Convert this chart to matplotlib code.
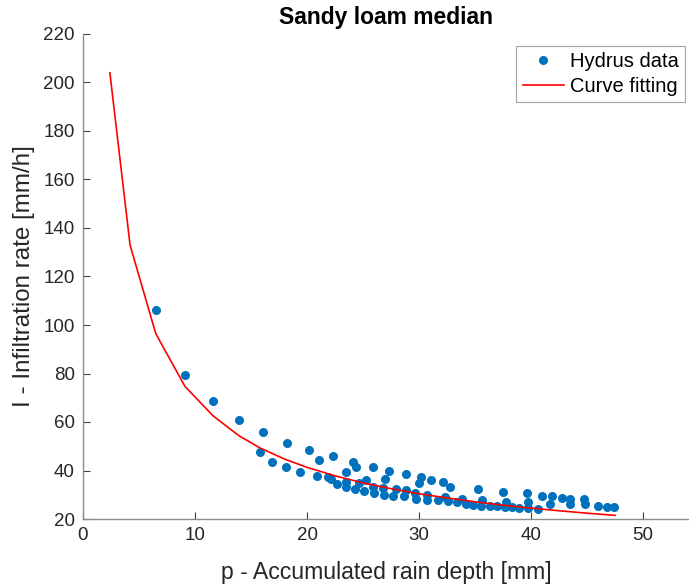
import matplotlib
matplotlib.use('Agg')
import matplotlib.pyplot as plt

# Hydrus data
p_data = [6.5, 9.1, 11.6, 13.9, 16.1, 15.8, 16.9, 18.2, 18.1, 19.4,
          20.2, 21.1, 22.3, 20.9, 21.9, 22.1, 22.7, 23.5, 24.1, 24.4,
          23.5, 23.5, 24.3, 24.6, 25.3, 25.1, 25.9, 25.9, 26.0, 26.8,
          27.0, 27.3, 26.9, 27.7, 27.9, 28.8, 28.7, 28.8, 29.6, 29.7,
          30.0, 30.2, 30.7, 30.7, 31.1, 31.7, 32.1, 32.3, 32.6, 32.8,
          33.4, 33.8, 34.2, 34.8, 35.3, 35.6, 35.5, 36.3, 37.0, 37.5,
          37.8, 37.7, 38.3, 38.9, 39.6, 39.7, 39.7, 40.6, 41.0, 41.7,
          41.9, 42.8, 43.5, 43.5, 44.7, 44.8, 46.0, 46.8, 47.4]
I_data = [106.0, 79.5, 68.5, 60.8, 55.8, 47.8, 43.5, 51.3, 41.3, 39.3,
          48.3, 44.3, 45.8, 37.7, 37.5, 36.4, 34.6, 39.2, 43.5, 41.6,
          35.4, 33.2, 32.4, 34.8, 35.9, 31.4, 41.6, 33.2, 30.7, 32.8,
          36.6, 39.9, 29.7, 29.3, 32.4, 38.4, 29.3, 31.8, 30.7, 28.4,
          34.8, 37.3, 30.0, 28.0, 35.9, 27.7, 35.2, 29.0, 27.3, 33.3,
          26.9, 28.1, 26.3, 25.8, 32.3, 27.9, 25.5, 25.4, 25.4, 31.3,
          27.1, 25.1, 24.8, 24.5, 30.6, 27.0, 24.4, 24.1, 29.6, 26.2,
          29.4, 28.8, 28.4, 26.1, 28.4, 26.1, 25.4, 25.1, 24.8]

# fitted curve
p_fit = [2.4, 4.2, 6.5, 9.1, 11.6, 13.9, 15.8, 18.0, 20.0, 22.5,
         25.0, 27.5, 30.0, 32.5, 35.0, 37.5, 40.0, 42.5, 45.0, 47.5]
I_fit = [204.0, 133.0, 96.4, 74.7, 62.6, 54.4, 49.3, 44.7, 41.3, 37.8,
         34.9, 32.5, 30.4, 28.7, 27.1, 25.7, 24.5, 23.4, 22.4, 21.5]

plt.rcParams['font.family'] = ['Liberation Sans', 'DejaVu Sans']

fig = plt.figure(figsize=(6.89, 5.88), dpi=100)
ax = fig.add_axes([83 / 689, 69 / 588, 606 / 689, 485 / 588])

ax.plot(p_data, I_data, 'o', color='#0072BD', markersize=6.5,
        markeredgewidth=0, label='Hydrus data')
ax.plot(p_fit, I_fit, '-', color='#FF0000', linewidth=1.2, label='Curve fitting')

ax.set_xlim(0, 54.1)
ax.set_ylim(20, 220)
ax.set_xticks([0, 10, 20, 30, 40, 50])
ax.set_yticks(range(20, 221, 20))

for s in ['top', 'right']:
    ax.spines[s].set_visible(False)
for s in ['left', 'bottom']:
    ax.spines[s].set_color('#8c8c8c')
    ax.spines[s].set_linewidth(1.0)
ax.tick_params(direction='in', length=5, color='#404040', labelcolor='#262626',
               labelsize=13.5, pad=6)

ax.set_xlabel('p - Accumulated rain depth [mm]', fontsize=16.6, color='#262626', labelpad=12)
ax.set_ylabel('I - Infiltration rate [mm/h]', fontsize=17.4, color='#262626', labelpad=6)
ax.set_title('Sandy loam median', fontsize=16.5, fontweight='bold', pad=7)

leg = ax.legend(loc='upper right', bbox_to_anchor=(0.993, 0.975), fontsize=14.5,
                frameon=True, fancybox=False, handlelength=2.05, borderpad=0.3,
                labelspacing=0.28, handletextpad=0.3, borderaxespad=0)
leg.get_frame().set_edgecolor('#8c8c8c')
leg.get_frame().set_linewidth(0.8)

fig.savefig('out.png', dpi=100)
